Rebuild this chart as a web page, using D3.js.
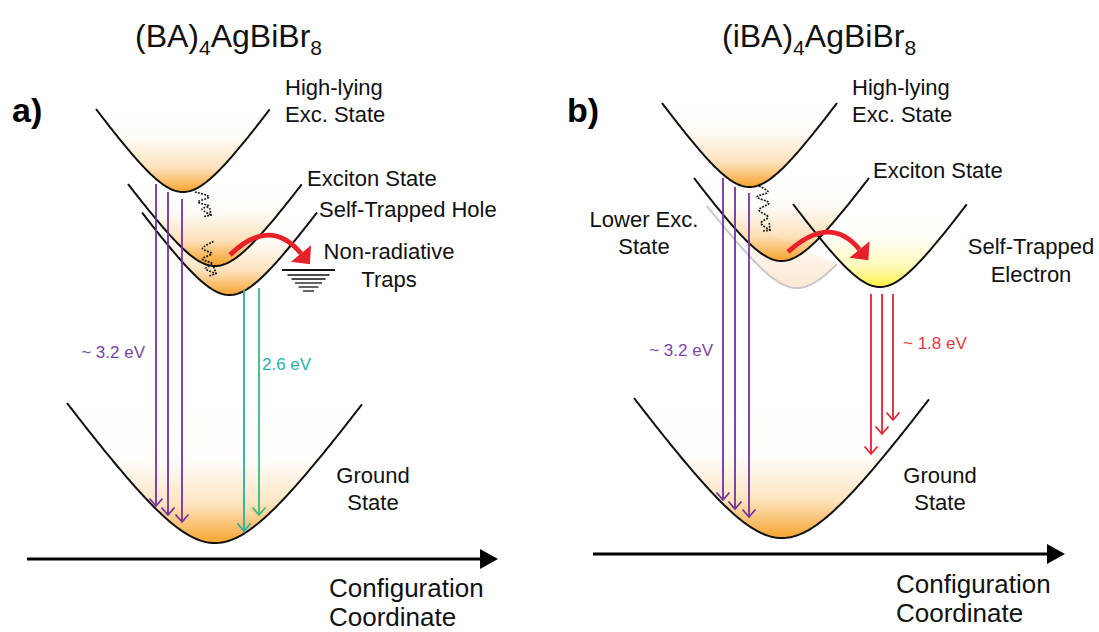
<!DOCTYPE html>
<html>
<head>
<meta charset="utf-8">
<script src="https://cdn.jsdelivr.net/npm/d3@7"></script>
<style>
  body { margin: 0; background: #fff; }
  svg { display: block; }
  text { font-family: Arial, "Liberation Sans", sans-serif; }
</style>
</head>
<body>
<svg width="1099" height="632"></svg>
<script>
// q = configuration coordinate (0-100), E = energy (0-100); each panel has its own x scale

// potential wells: vertex (q0, e0), rim energy, half width (cut = right end if truncated)
const wellsA = [
  { id: "hi",  q0: 36.6, e0: 73.6, rim: 90.2, hw: 17.4 },
  { id: "exc", q0: 43.0, e0: 58.8, rim: 75.2, hw: 17.4 },
  { id: "sth", q0: 45.9, e0: 53.0, rim: 69.5, hw: 17.5 },
  { id: "gs",  q0: 43.0, e0: 3.4,  rim: 31.4, hw: 29.6 }
];
const wellsB = [
  { id: "low", q0: 47.4, e0: 54.4, rim: 70.8, hw: 18.0, cut: 55.4 },
  { id: "hi",  q0: 37.9, e0: 74.6, rim: 91.4, hw: 17.5 },
  { id: "exc", q0: 44.3, e0: 59.8, rim: 76.4, hw: 17.5 },
  { id: "ste", q0: 64.0, e0: 54.6, rim: 71.2, hw: 17.4 },
  { id: "gs",  q0: 44.4, e0: 4.4,  rim: 32.4, hw: 29.6 }
];

// vertical transitions (q, start energy, end energy)
const emissionA = [
  { q: 31.2, from: 75.2, to: 10.8, band: "uv" },
  { q: 33.6, from: 73.6, to: 9.0,  band: "uv" },
  { q: 36.4, from: 72.2, to: 7.6,  band: "uv" },
  { q: 48.8, from: 54.0, to: 5.8,  band: "teal" },
  { q: 51.8, from: 54.4, to: 9.0,  band: "green" }
];
const emissionB = [
  { q: 32.6, from: 76.4, to: 12.0, band: "uv" },
  { q: 35.0, from: 74.6, to: 10.2, band: "uv" },
  { q: 37.8, from: 73.4, to: 8.6,  band: "uv" },
  { q: 62.2, from: 53.2, to: 21.2, band: "red1" },
  { q: 64.4, from: 53.2, to: 25.2, band: "red2" },
  { q: 66.6, from: 53.2, to: 28.0, band: "red3" }
];

// non-radiative hop (start, control, end)
const hopA = [{ q: 46.0, e: 61.0 }, { q: 54.0, e: 68.8 }, { q: 60.2, e: 61.3 }];
const hopB = [{ q: 45.6, e: 61.6 }, { q: 54.0, e: 69.3 }, { q: 59.9, e: 62.1 }];

// thermal relaxation squiggles
const relaxA1 = [[39, 73.6], [41.8, 72.6], [39.6, 71.6], [41.8, 70.8], [40.4, 70.2], [42.2, 69]];
const relaxA2 = [[42.7, 63.7], [40.5, 62.3], [42.3, 61.3], [40.5, 60.2], [42.5, 59.2], [41.1, 58.3], [43.2, 57.3]];
const relaxB1 = [[39.8, 74.8], [41.6, 73.6], [39.4, 72.6], [41.8, 71.4], [39.8, 70], [41.6, 68.6], [40.2, 67.4], [42, 66]];

// trap levels in panel a
const trapQ = 61.7;
const trapLevels = [
  { e: 58.0, hw: 5.3 }, { e: 57.0, hw: 4.2 }, { e: 56.2, hw: 3.4 },
  { e: 55.4, hw: 2.7 }, { e: 54.6, hw: 2.0 }, { e: 53.8, hw: 1.1 }
];

// configuration coordinate axis [qStart, qEnd, E]
const axisA = [5.4, 99.6, 0.2];
const axisB = [6.6, 101, 1.2];

const labelsA = [
  { t: "High-lying", q: 57, e: 93, a: "start" },
  { t: "Exc. State", q: 57, e: 87.6, a: "start" },
  { t: "Exciton State", q: 61.4, e: 74.8, a: "start" },
  { t: "Self-Trapped Hole", q: 63.8, e: 68.6, a: "start" },
  { t: "Non-radiative", q: 77.8, e: 60.2, a: "middle" },
  { t: "Traps", q: 77.8, e: 54.6, a: "middle" },
  { t: "Ground", q: 74.6, e: 15.4, a: "middle" },
  { t: "State", q: 74.6, e: 10, a: "middle" }
];
const labelsB = [
  { t: "High-lying", q: 58.4, e: 93, a: "start" },
  { t: "Exc. State", q: 58.4, e: 87.6, a: "start" },
  { t: "Exciton State", q: 62.6, e: 76.4, a: "start" },
  { t: "Lower Exc.", q: 16.8, e: 66.6, a: "middle" },
  { t: "State", q: 16.8, e: 61.2, a: "middle" },
  { t: "Self-Trapped", q: 94.2, e: 61.2, a: "middle" },
  { t: "Electron", q: 94.2, e: 55.6, a: "middle" },
  { t: "Ground", q: 76, e: 15.4, a: "middle" },
  { t: "State", q: 76, e: 10, a: "middle" }
];
const energyA = [{ t: "~ 3.2 eV", q: 29, e: 40.4, a: "end", band: "uv" }, { t: "2.6 eV", q: 52.4, e: 38, a: "start", band: "teal" }];
const energyB = [{ t: "~ 3.2 eV", q: 30.6, e: 40.8, a: "end", band: "uv" }, { t: "~ 1.8 eV", q: 68.6, e: 42.2, a: "start", band: "red1" }];
const axisTitleA = [{ t: "Configuration", q: 65.8, e: -7.4 }, { t: "Coordinate", q: 65.8, e: -13.2 }];
const axisTitleB = [{ t: "Configuration", q: 67.2, e: -6.6 }, { t: "Coordinate", q: 67.2, e: -12.4 }];

const titleA = [["(BA)", 0], ["4", 1], ["AgBiBr", 0], ["8", 1]];
const titleB = [["(iBA)", 0], ["4", 1], ["AgBiBr", 0], ["8", 1]];
const titlePos = [{ q: 27, e: 102.6 }, { q: 32.4, e: 102.6 }];
const tags = [{ t: "a)", q: 2.4, e: 87.6 }, { t: "b)", q: 1.4, e: 87.6 }];

const bandColor = {
  uv: "#7232a3", teal: "#1fb2aa", green: "#3bba7e",
  red1: "#ec1f2b", red2: "#dd2536", red3: "#d42a3c"
};
const labelColor = { uv: "#7b44a8", teal: "#25b3a8", red1: "#e2383f" };
const wellFill = { hi: "gOrange", exc: "gOrange", sth: "gOrange", gs: "gGround", ste: "gYellow", low: "gFaint" };
const wellStroke = { low: "#c9c9c9" };

const svg = d3.select("svg");
const y = d3.scaleLinear().domain([0, 100]).range([560, 60]);
const xA = d3.scaleLinear().domain([0, 100]).range([0, 500]);
const xB = d3.scaleLinear().domain([0, 100]).range([560, 1060]);

// gradients
const defs = svg.append("defs");
function grad(id, color, stops) {
  const g = defs.append("linearGradient").attr("id", id)
    .attr("x1", 0).attr("y1", 0).attr("x2", 0).attr("y2", 1);
  stops.forEach(s => g.append("stop").attr("offset", s[0]).attr("stop-color", color).attr("stop-opacity", s[1]));
}
grad("gOrange", "#f6a025", [[0, 0], [0.35, 0.04], [0.7, 0.3], [1, 0.95]]);
grad("gGround", "#f6a025", [[0, 0], [0.4, 0.02], [0.72, 0.28], [1, 0.95]]);
grad("gYellow", "#fff03a", [[0, 0], [0.4, 0.04], [0.75, 0.35], [1, 0.95]]);
grad("gFaint", "#f3b46a", [[0, 0.02], [0.5, 0.1], [1, 0.3]]);

function wellPoints(w) {
  const r = 0.4 * w.hw;
  const k = (w.rim - w.e0) / (Math.sqrt(w.hw * w.hw + r * r) - r);
  const qEnd = w.cut !== undefined ? w.cut : w.q0 + w.hw;
  const pts = [];
  for (let q = w.q0 - w.hw; q <= qEnd + 1e-9; q += 0.25) {
    const d = q - w.q0;
    pts.push([q, w.e0 + k * (Math.sqrt(d * d + r * r) - r)]);
  }
  return pts;
}

function drawPanel(x, wells, emission, hop, squiggles, labels, energy, axis, axisTitle, title, tpos, tag) {
  const g = svg.append("g");
  const line = d3.line().x(d => x(d[0])).y(d => y(d[1]));

  // well fills, then outlines
  g.selectAll(".fill").data(wells).join("path")
    .attr("d", w => line(wellPoints(w)) + "Z")
    .attr("fill", w => `url(#${wellFill[w.id]})`)
    .attr("stroke", "none");
  g.selectAll(".edge").data(wells).join("path")
    .attr("d", w => line(wellPoints(w)))
    .attr("fill", "none")
    .attr("stroke", w => wellStroke[w.id] || "#111")
    .attr("stroke-width", 2);

  // emission arrows
  const em = g.selectAll(".em").data(emission).join("g")
    .attr("stroke", d => bandColor[d.band]).attr("stroke-width", 1.8).attr("fill", "none");
  em.append("line")
    .attr("x1", d => x(d.q)).attr("x2", d => x(d.q))
    .attr("y1", d => y(d.from)).attr("y2", d => y(d.to));
  em.append("path")
    .attr("d", d => `M${x(d.q) - 6.5},${y(d.to) - 7.5}L${x(d.q)},${y(d.to)}L${x(d.q) + 6.5},${y(d.to) - 7.5}`);

  // relaxation squiggles
  const sq = d3.line().x(d => x(d[0])).y(d => y(d[1])).curve(d3.curveCatmullRom.alpha(0.5));
  squiggles.forEach(s => {
    g.append("path").attr("d", sq(s))
      .attr("fill", "none").attr("stroke", "#111").attr("stroke-width", 1.7)
      .attr("stroke-dasharray", "1.8,1.3");
    const p1 = s[s.length - 2], p2 = s[s.length - 1];
    const ex = x(p2[0]), ey = y(p2[1]);
    const a = Math.atan2(ey - y(p1[1]), ex - x(p1[0]));
    const L = 7, sp = 0.8;
    g.append("path")
      .attr("d", `M${ex - L * Math.cos(a - sp)},${ey - L * Math.sin(a - sp)}L${ex},${ey}L${ex - L * Math.cos(a + sp)},${ey - L * Math.sin(a + sp)}`)
      .attr("fill", "none").attr("stroke", "#111").attr("stroke-width", 1.7)
      .attr("stroke-dasharray", "1.8,1.3");
  });

  // red hopping arrow
  const p0 = [x(hop[0].q), y(hop[0].e)], c = [x(hop[1].q), y(hop[1].e)], p1 = [x(hop[2].q), y(hop[2].e)];
  g.append("path").attr("d", `M${p0[0]},${p0[1]}Q${c[0]},${c[1]} ${p1[0]},${p1[1]}`)
    .attr("fill", "none").attr("stroke", "#e8202a").attr("stroke-width", 4.8);
  const ang = Math.atan2(p1[1] - c[1], p1[0] - c[0]);
  const hl = 14, hw = 13;
  const tip = [p1[0] + hl * Math.cos(ang), p1[1] + hl * Math.sin(ang)];
  const b1 = [p1[0] - hw * Math.sin(ang), p1[1] + hw * Math.cos(ang)];
  const b2 = [p1[0] + hw * Math.sin(ang), p1[1] - hw * Math.cos(ang)];
  g.append("path").attr("d", `M${tip}L${b1}L${b2}Z`).attr("fill", "#e8202a");

  // axis arrow
  g.append("line")
    .attr("x1", x(axis[0])).attr("x2", x(axis[1]) - 14)
    .attr("y1", y(axis[2])).attr("y2", y(axis[2]))
    .attr("stroke", "#000").attr("stroke-width", 3.2);
  const ax = x(axis[1]), ay = y(axis[2]);
  g.append("path").attr("d", `M${ax},${ay}L${ax - 18},${ay - 10}L${ax - 18},${ay + 10}Z`).attr("fill", "#000");

  // text
  g.selectAll(".lbl").data(labels).join("text")
    .attr("x", d => x(d.q)).attr("y", d => y(d.e))
    .attr("text-anchor", d => d.a).attr("font-size", 22).attr("fill", "#111")
    .text(d => d.t);
  g.selectAll(".en").data(energy).join("text")
    .attr("x", d => x(d.q)).attr("y", d => y(d.e))
    .attr("text-anchor", d => d.a).attr("font-size", 17).attr("fill", d => labelColor[d.band])
    .text(d => d.t);
  g.selectAll(".ax").data(axisTitle).join("text")
    .attr("x", d => x(d.q)).attr("y", d => y(d.e))
    .attr("font-size", 26).attr("fill", "#111")
    .text(d => d.t);

  const tt = g.append("text").attr("x", x(tpos.q)).attr("y", y(tpos.e))
    .attr("font-size", 32).attr("fill", "#111");
  let sub = 0;
  title.forEach(([s, isSub]) => {
    tt.append("tspan").attr("dy", isSub ? 8 : (sub ? -8 : 0))
      .attr("font-size", isSub ? 21 : 32).text(s);
    sub = isSub;
  });

  g.append("text").attr("x", x(tag.q)).attr("y", y(tag.e))
    .attr("font-size", 34).attr("font-weight", "bold").attr("fill", "#000").text(tag.t);

  return g;
}

const gA = drawPanel(xA, wellsA, emissionA, hopA, [relaxA1, relaxA2], labelsA, energyA, axisA, axisTitleA, titleA, titlePos[0], tags[0]);
drawPanel(xB, wellsB, emissionB, hopB, [relaxB1], labelsB, energyB, axisB, axisTitleB, titleB, titlePos[1], tags[1]);

// trap levels (panel a)
gA.selectAll(".trap").data(trapLevels).join("line")
  .attr("x1", d => xA(trapQ - d.hw)).attr("x2", d => xA(trapQ + d.hw))
  .attr("y1", d => y(d.e)).attr("y2", d => y(d.e))
  .attr("stroke", "#111").attr("stroke-width", (d, i) => i === 0 ? 1.8 : 1.3);
</script>
</body>
</html>
